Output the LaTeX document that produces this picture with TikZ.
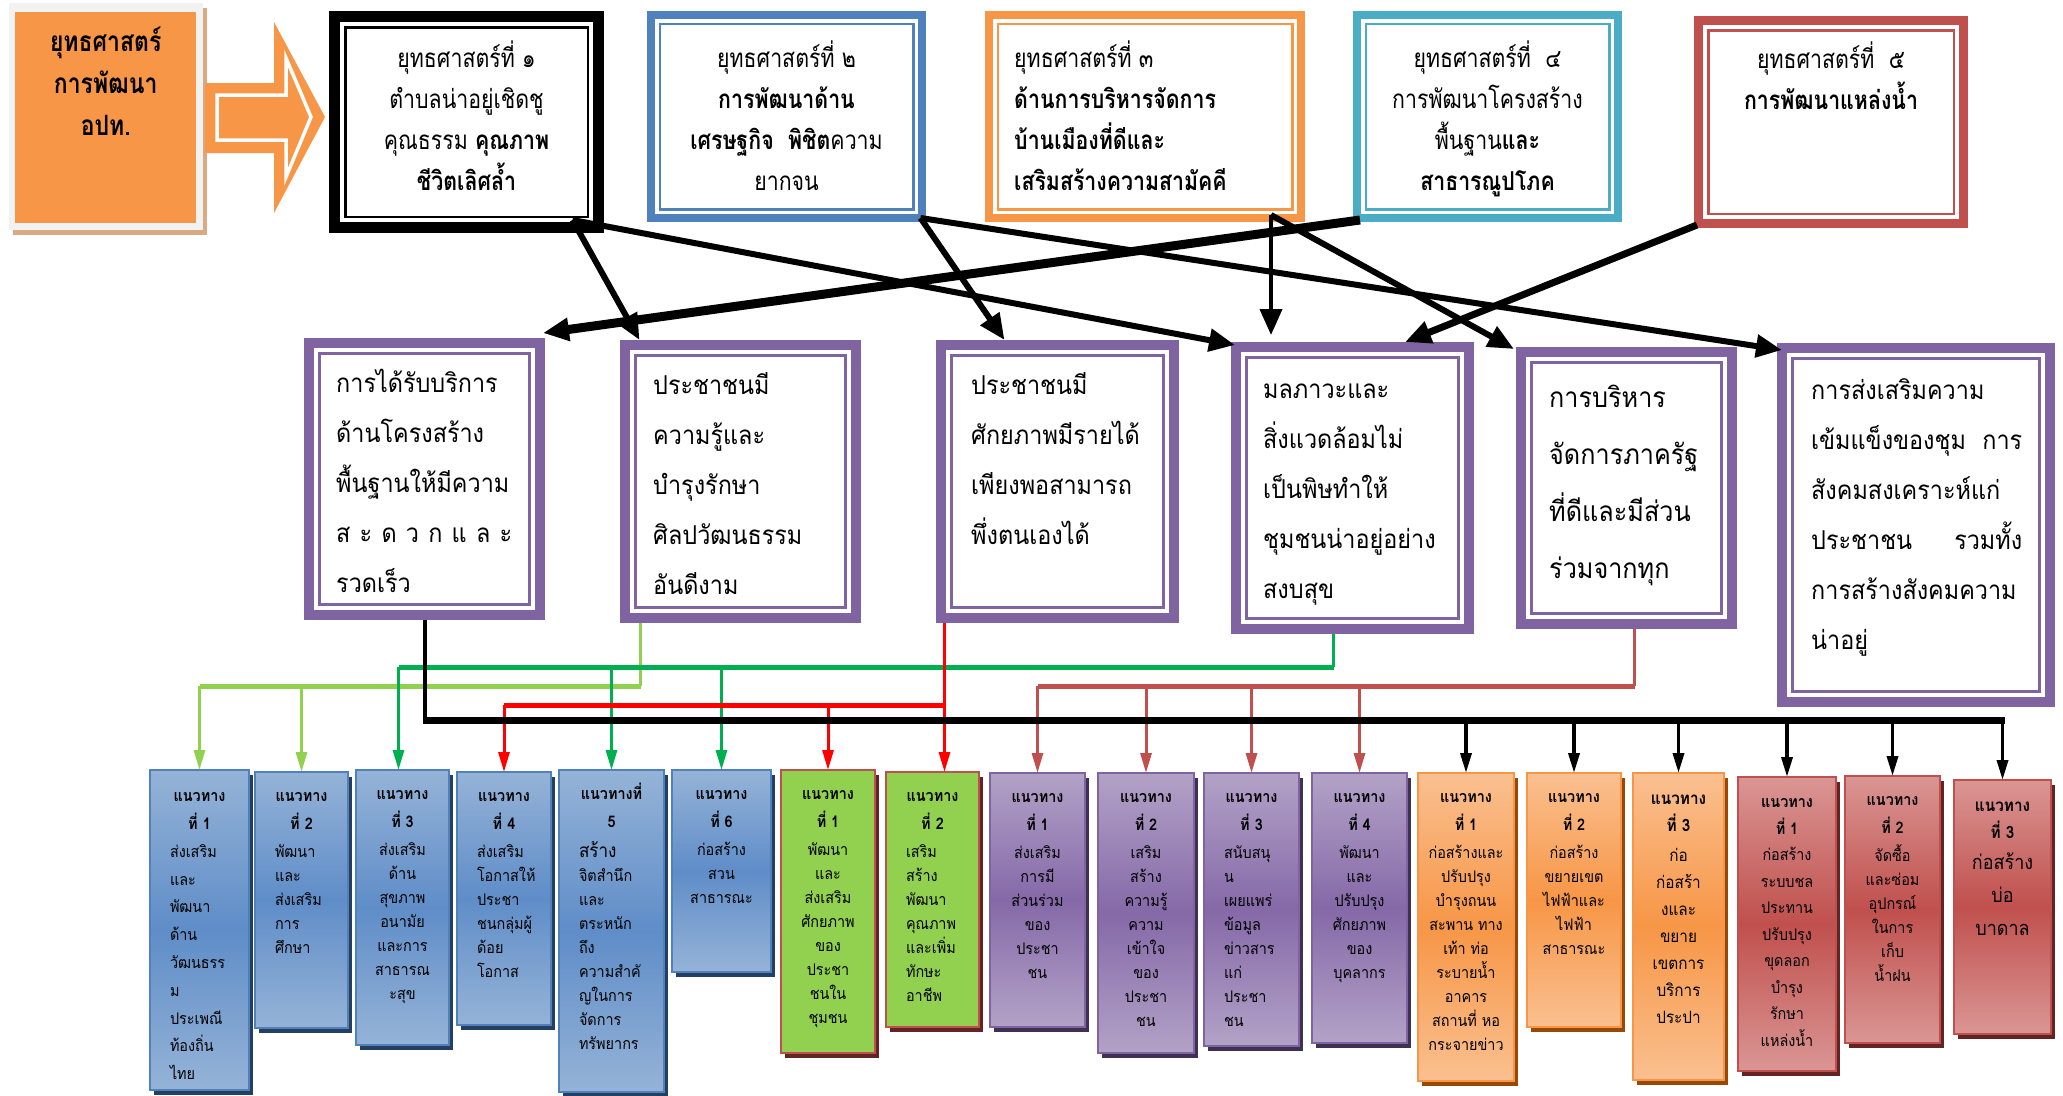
\documentclass[tikz,border=0pt]{standalone}
\usepackage{fontspec}
\newfontfamily\thfont[Script=Thai]{Loma}
\newfontfamily\thtop[Script=Thai,FakeStretch=0.82]{Loma}
\newfontfamily\thmid[Script=Thai,FakeStretch=0.9]{Loma}
\newfontfamily\thbot[Script=Thai,FakeStretch=0.9]{Loma}
\usetikzlibrary{arrows.meta,shadows}
\definecolor{sOrange}{HTML}{F79646}
\definecolor{sBlue}{HTML}{4F81BD}
\definecolor{sTeal}{HTML}{4BACC6}
\definecolor{sRed}{HTML}{C0504D}
\definecolor{sPurple}{HTML}{8064A2}
\definecolor{lGreen}{HTML}{92D050}
\definecolor{dGreen}{HTML}{00B050}
\definecolor{pRed}{HTML}{FF0000}
\definecolor{blL}{HTML}{95B3D7}
\definecolor{blD}{HTML}{5F8DC8}
\definecolor{blS}{HTML}{243F60}
\definecolor{puL}{HTML}{B3A2C7}
\definecolor{puD}{HTML}{8569A8}
\definecolor{puS}{HTML}{3F3151}
\definecolor{orL}{HTML}{FAC090}
\definecolor{orD}{HTML}{F79646}
\definecolor{orS}{HTML}{984807}
\definecolor{reL}{HTML}{DA9694}
\definecolor{reD}{HTML}{C0504D}
\definecolor{reS}{HTML}{632523}
\definecolor{tanS}{HTML}{D9A982}
\definecolor{frameGray}{HTML}{F2F2F2}

\newcommand\frbox[9]{%
  \node[anchor=north west, inner sep=0pt, outer sep=0pt, minimum width=#4pt, minimum height=#5pt] (#1) at (#2,#3) {};
  \draw[#6, line width=#7pt] ([shift={(#7pt/2,-#7pt/2)}]#1.north west) rectangle ([shift={(-#7pt/2,#7pt/2)}]#1.south east);
  \pgfmathsetmacro\frin{#7+#8+#9/2}%
  \draw[#6, line width=#9pt] ([shift={(\frin pt,-\frin pt)}]#1.north west) rectangle ([shift={(-\frin pt,\frin pt)}]#1.south east);
}
\newcommand\gbox[8]{%
  \node[#6, minimum width=#4pt, minimum height=#5pt] (#1) at (#2,#3) {};
  \node[gtxt, #7] at ([yshift=-12pt]#1.north) {\leavevmode\strut#8};
}
\newcommand\hd[1]{\leavevmode\hbox to\hsize{\hss\textbf{#1}\hss}}

\begin{document}
\begin{tikzpicture}[x=1pt,y=-1pt,
  ttxt/.style={inner sep=0pt, font=\thtop\fontsize{26}{41}\selectfont},
  mtxt/.style={inner sep=0pt, anchor=north west, align=left, font=\thmid\fontsize{26}{50}\selectfont},
  gtxt/.style={anchor=north, inner sep=0pt, font=\thbot\fontsize{16}{24}\selectfont},
  gb/.style={anchor=north west, inner sep=0pt, outer sep=0pt, line width=2.5pt},
  bluebox/.style={gb, top color=blL, bottom color=blL, middle color=blD, draw=sBlue,
     drop shadow={shadow xshift=4pt, shadow yshift=-5pt, fill=blS, opacity=1}},
  greenbox/.style={gb, fill=lGreen, draw=sRed,
     drop shadow={shadow xshift=4pt, shadow yshift=-5pt, fill=reS, opacity=1}},
  purplebox/.style={gb, top color=puL, bottom color=puL, middle color=puD, draw=sPurple,
     drop shadow={shadow xshift=4pt, shadow yshift=-5pt, fill=puS, opacity=1}},
  orangebox/.style={gb, top color=orL, bottom color=orL, middle color=orD, draw=sOrange,
     drop shadow={shadow xshift=4pt, shadow yshift=-5pt, fill=orS, opacity=1}},
  redbox/.style={gb, top color=reL, bottom color=reL, middle color=reD, draw=sRed,
     drop shadow={shadow xshift=4pt, shadow yshift=-5pt, fill=reS, opacity=1}},
  tarr/.style={line width=6pt, -{Triangle[length=26pt,width=22pt]}},
  drop/.style={line width=3pt, -{Triangle[length=20pt,width=11pt]}},
]
\useasboundingbox (0,0) rectangle (2063,1095);

% source box
\fill[tanS] (13,8) rectangle (207,235);
\fill[frameGray] (9,3) rectangle (203,230);
\node[anchor=north west, fill=sOrange, minimum width=181pt, minimum height=211pt, inner sep=0pt] (src) at (15,12) {};
\node[anchor=north, align=center, inner sep=0pt, font=\thtop\bfseries\fontsize{28}{42}\selectfont] at ([yshift=-10pt]src.north) {\strut ยุทธศาสตร์\\การพัฒนา\\อปท.};

% block arrow
\fill[sOrange] (205,83) -- (274,83) -- (274,22) -- (325,117) -- (274,213) -- (274,153) -- (205,153) -- cycle;
\draw[white, line width=3.5pt] (217,95) -- (286,95) -- (286,58) -- (311,117) -- (286,177) -- (286,140) -- (217,140) -- cycle;

% strategy boxes
\frbox{s1}{329}{11}{275}{222}{black}{11}{4}{2.5}
\frbox{s2}{647}{11}{279}{211}{sBlue}{8}{3.5}{2.5}
\frbox{s3}{985}{11}{320}{211}{sOrange}{8}{3.5}{2.5}
\frbox{s4}{1353}{11}{269}{211}{sTeal}{8}{3.5}{2.5}
\frbox{s5}{1694}{16}{274}{212}{sRed}{9}{4}{2.5}

\node[ttxt, anchor=north, align=center] at ([yshift=-28pt]s1.north) {\strut ยุทธศาสตร์ที่ ๑\\ตำบลน่าอยู่เชิดชู\\คุณธรรม \textbf{คุณภาพ}\\\textbf{ชีวิตเลิศล้ำ}};
\node[ttxt, anchor=north, align=center] at ([yshift=-28pt]s2.north) {\strut ยุทธศาสตร์ที่ ๒\\\textbf{การพัฒนาด้าน}\\\textbf{เศรษฐกิจ\ \ พิชิต}ความ\\ยากจน};
\node[ttxt, anchor=north west, align=left] at ([shift={(29pt,-28pt)}]s3.north west) {\strut ยุทธศาสตร์ที่ ๓\\\textbf{ด้านการบริหารจัดการ}\\\textbf{บ้านเมืองที่ดีและ}\\\textbf{เสริมสร้างความสามัคคี}};
\node[ttxt, anchor=north, align=center] at ([yshift=-28pt]s4.north) {\strut ยุทธศาสตร์ที่\ \ ๔\\การพัฒนาโครงสร้าง\\พื้นฐาน\textbf{และ}\\\textbf{สาธารณูปโภค}};
\node[ttxt, anchor=north, align=center] at ([yshift=-24pt]s5.north) {\strut ยุทธศาสตร์ที่\ \ ๕\\\textbf{การพัฒนาแหล่งน้ำ}};

% middle boxes
\frbox{m1}{304}{338}{241}{282}{sPurple}{10}{4}{3}
\frbox{m2}{620}{340}{241}{283}{sPurple}{10}{4}{3}
\frbox{m3}{936}{340}{243}{283}{sPurple}{10}{4}{3}
\frbox{m4}{1231}{342}{243}{292}{sPurple}{10}{4}{3}
\frbox{m5}{1516}{347}{221}{282}{sPurple}{10}{4}{3}
\frbox{m6}{1777}{343}{278}{364}{sPurple}{10}{4}{3}

\node[mtxt] at ([shift={(32pt,-19pt)}]m1.north west) {\strut การได้รับบริการ\\ด้านโครงสร้าง\\พื้นฐานให้มีความ\\\makebox[176pt][s]{ส\hfil ะ\hfil ด\hfil ว\hfil ก\hfil แ\hfil ล\hfil ะ}\\รวดเร็ว};
\node[mtxt] at ([shift={(33pt,-19pt)}]m2.north west) {\strut ประชาชนมี\\ความรู้และ\\บำรุงรักษา\\ศิลปวัฒนธรรม\\อันดีงาม};
\node[mtxt] at ([shift={(35pt,-19pt)}]m3.north west) {\strut ประชาชนมี\\ศักยภาพมีรายได้\\เพียงพอสามารถ\\พึ่งตนเองได้};
\node[mtxt] at ([shift={(32pt,-21pt)}]m4.north west) {\strut มลภาวะและ\\สิ่งแวดล้อมไม่\\เป็นพิษทำให้\\ชุมชนน่าอยู่อย่าง\\สงบสุข};
\node[mtxt, font=\thmid\fontsize{28}{57}\selectfont] at ([shift={(33pt,-20pt)}]m5.north west) {\strut การบริหาร\\จัดการภาครัฐ\\ที่ดีและมีส่วน\\ร่วมจากทุก};
\node[mtxt] at ([shift={(34pt,-21pt)}]m6.north west) {\strut การส่งเสริมความ\\\makebox[211pt][s]{เข้มแข็งของชุม\hfill การ}\\สังคมสงเคราะห์แก่\\\makebox[211pt][s]{ประชาชน\hfill รวมทั้ง}\\การสร้างสังคมความ\\น่าอยู่};

% top arrows
\coordinate (s1o) at ([shift={(106pt,13pt)}]s1.south);
\coordinate (s2o) at ([shift={(134pt,4pt)}]s2.south);
\coordinate (s3o) at ([shift={(126pt,7pt)}]s3.south);
\draw[tarr] (s1o) -- ([xshift=-101pt]m2.north);
\draw[tarr] (s1o) -- ([shift={(4pt,-3pt)}]m4.north west);
\draw[tarr] (s2o) -- ([xshift=-53pt]m3.north);
\draw[tarr] (s2o) -- ([shift={(5pt,-7pt)}]m6.north west);
\draw[tarr, line width=4pt, shorten >=7pt] (s3o) -- (s3o |- m4.north);
\draw[tarr] (s3o) -- ([shift={(-2pt,-2pt)}]m5.north west);
\draw[tarr, line width=9pt] ([shift={(7pt,2pt)}]s4.south west) -- ([shift={(-2pt,5pt)}]m1.north east);
\draw[tarr, line width=7pt] ([shift={(3pt,3pt)}]s5.south west) -- ([xshift=-69pt]m4.north east);

% bottom boxes
\gbox{b1}{150}{770}{99}{320}{bluebox}{align=left, text width=59pt, font=\thbot\fontsize{16}{27.8}\selectfont}{\hd{แนวทาง}\\\hd{ที่ 1}\\ส่งเสริม\\และ\\พัฒนา\\ด้าน\\วัฒนธรร\\ม\\ประเพณี\\ท้องถิ่น\\ไทย}
\gbox{b2}{255}{772}{93}{256}{bluebox}{align=left, text width=53pt}{\hd{แนวทาง}\\[4pt]\hd{ที่ 2}\\[4pt]พัฒนา\\และ\\ส่งเสริม\\การ\\ศึกษา}
\gbox{b3}{356}{770}{93}{275}{bluebox}{align=center}{\textbf{แนวทาง}\\[4pt]\textbf{ที่ 3}\\[4pt]ส่งเสริม\\ด้าน\\สุขภาพ\\อนามัย\\และการ\\สาธารณ\\ะสุข}
\gbox{b4}{457}{772}{94}{253}{bluebox}{align=left, text width=54pt}{\hd{แนวทาง}\\[4pt]\hd{ที่ 4}\\[4pt]ส่งเสริม\\โอกาสให้\\ประชา\\ชนกลุ่มผู้\\ด้อย\\โอกาส}
\gbox{b5}{559}{770}{105}{322}{bluebox}{align=left, text width=65pt}{\hd{แนวทางที่}\\[4pt]\hd{5}\\[6pt]{\fontsize{19}{24}\selectfont สร้าง}\\จิตสำนึก\\และ\\ตระหนัก\\ถึง\\ความสำคั\\ญในการ\\จัดการ\\ทรัพยากร}
\gbox{b6}{672}{770}{99}{202}{bluebox}{align=center}{\textbf{แนวทาง}\\[4pt]\textbf{ที่ 6}\\[4pt]ก่อสร้าง\\สวน\\สาธารณะ}
\gbox{g1}{781}{770}{94}{283}{greenbox}{align=center}{\textbf{แนวทาง}\\[4pt]\textbf{ที่ 1}\\[4pt]พัฒนา\\และ\\ส่งเสริม\\ศักยภาพ\\ของ\\ประชา\\ชนใน\\ชุมชน}
\gbox{g2}{886}{772}{93}{255}{greenbox}{align=left, text width=53pt}{\hd{แนวทาง}\\[4pt]\hd{ที่ 2}\\[4pt]เสริม\\สร้าง\\พัฒนา\\คุณภาพ\\และเพิ่ม\\ทักษะ\\อาชีพ}
\gbox{p1}{990}{773}{95}{254}{purplebox}{align=center}{\textbf{แนวทาง}\\[4pt]\textbf{ที่ 1}\\[4pt]ส่งเสริม\\การมี\\ส่วนร่วม\\ของ\\ประชา\\ชน}
\gbox{p2}{1098}{773}{96}{280}{purplebox}{align=center}{\textbf{แนวทาง}\\[4pt]\textbf{ที่ 2}\\[4pt]เสริม\\สร้าง\\ความรู้\\ความ\\เข้าใจ\\ของ\\ประชา\\ชน}
\gbox{p3}{1204}{773}{95}{273}{purplebox}{align=left, text width=55pt}{\hd{แนวทาง}\\[4pt]\hd{ที่ 3}\\[4pt]สนับสนุ\\น\\เผยแพร่\\ข้อมูล\\ข่าวสาร\\แก่\\ประชา\\ชน}
\gbox{p4}{1312}{773}{95}{270}{purplebox}{align=center}{\textbf{แนวทาง}\\[4pt]\textbf{ที่ 4}\\[4pt]พัฒนา\\และ\\ปรับปรุง\\ศักยภาพ\\ของ\\บุคลากร}
\gbox{o1}{1418}{773}{96}{308}{orangebox}{align=center}{\textbf{แนวทาง}\\[4pt]\textbf{ที่ 1}\\[4pt]ก่อสร้างและ\\ปรับปรุง\\บำรุงถนน\\สะพาน ทาง\\เท้า ท่อ\\ระบายน้ำ\\อาคาร\\สถานที่ หอ\\กระจายข่าว}
\gbox{o2}{1527}{773}{94}{254}{orangebox}{align=center}{\textbf{แนวทาง}\\[4pt]\textbf{ที่ 2}\\[4pt]ก่อสร้าง\\ขยายเขต\\ไฟฟ้าและ\\ไฟฟ้า\\สาธารณะ}
\gbox{o3}{1633}{773}{91}{307}{orangebox}{align=center, font=\thbot\fontsize{17}{27}\selectfont}{\textbf{แนวทาง}\\\textbf{ที่ 3}\\[3pt]ก่อ\\ก่อสร้า\\งและ\\ขยาย\\เขตการ\\บริการ\\ประปา}
\gbox{r1}{1738}{777}{98}{294}{redbox}{align=center, font=\thbot\fontsize{16}{26.5}\selectfont}{\textbf{แนวทาง}\\\textbf{ที่ 1}\\ก่อสร้าง\\ระบบชล\\ประทาน\\ปรับปรุง\\ขุดลอก\\บำรุง\\รักษา\\แหล่งน้ำ}
\gbox{r2}{1845}{776}{95}{267}{redbox}{align=center}{\textbf{แนวทาง}\\[4pt]\textbf{ที่ 2}\\[4pt]จัดซื้อ\\และซ่อม\\อุปกรณ์\\ในการ\\เก็บ\\น้ำฝน}
\gbox{r3}{1954}{780}{97}{254}{redbox}{align=center, font=\thbot\fontsize{17}{27}\selectfont}{\textbf{แนวทาง}\\\textbf{ที่ 3}\\[4pt]{\fontsize{20}{30}\selectfont ก่อสร้าง}\\[6pt]{\fontsize{20}{30}\selectfont บ่อ}\\[6pt]{\fontsize{20}{30}\selectfont บาดาล}}

% bus coordinates
\coordinate (dgb) at (0,667);
\coordinate (lgb) at (0,686);
\coordinate (brb) at (0,686);
\coordinate (rb) at (0,705);
\coordinate (kb) at (0,720);

% light green (M2)
\draw[lGreen, line width=3pt] ([xshift=-100pt]m2.south) -- ([xshift=-100pt]m2.south |- lgb);
\draw[lGreen, line width=5pt] ([xshift=-100pt]m2.south |- lgb) -- (b1.north |- lgb);
\foreach \n in {b1,b2} \draw[drop, lGreen] (\n.north |- lgb) -- (\n.north);

% dark green (M4)
\draw[dGreen, line width=3pt] ([xshift=-19pt]m4.south) -- ([xshift=-19pt]m4.south |- dgb);
\draw[dGreen, line width=5pt] ([xshift=-19pt]m4.south |- dgb) -- ([xshift=-4pt]b3.north |- dgb);
\draw[drop, dGreen] ([xshift=-4pt]b3.north |- dgb) -- ([xshift=-4pt]b3.north);
\foreach \n in {b5,b6} \draw[drop, dGreen] (\n.north |- dgb) -- (\n.north);

% red (M3)
\draw[drop, pRed] ([xshift=-113pt]m3.south) -- ([xshift=-113pt]m3.south |- g2.north);
\draw[pRed, line width=5pt] ([xshift=-113pt]m3.south |- rb) -- (b4.north |- rb);
\foreach \n in {b4,g1} \draw[drop, pRed] (\n.north |- rb) -- (\n.north);

% brown red (M5)
\draw[sRed, line width=3pt] ([xshift=8pt]m5.south) -- ([xshift=8pt]m5.south |- brb);
\draw[sRed, line width=5pt] ([xshift=8pt]m5.south |- brb) -- (p1.north |- brb);
\foreach \n in {p1,p2,p3,p4} \draw[drop, sRed] (\n.north |- brb) -- (\n.north);

% black (M1)
\draw[black, line width=4pt] (m1.south) -- (m1.south |- kb);
\draw[black, line width=7pt] ([xshift=-2pt]m1.south |- kb) -- ([xshift=2pt]r3.north |- kb);
\foreach \n in {o1,o2,o3,r1,r2,r3} \draw[drop, black, line width=3.5pt] (\n.north |- kb) -- (\n.north);
\end{tikzpicture}
\end{document}
